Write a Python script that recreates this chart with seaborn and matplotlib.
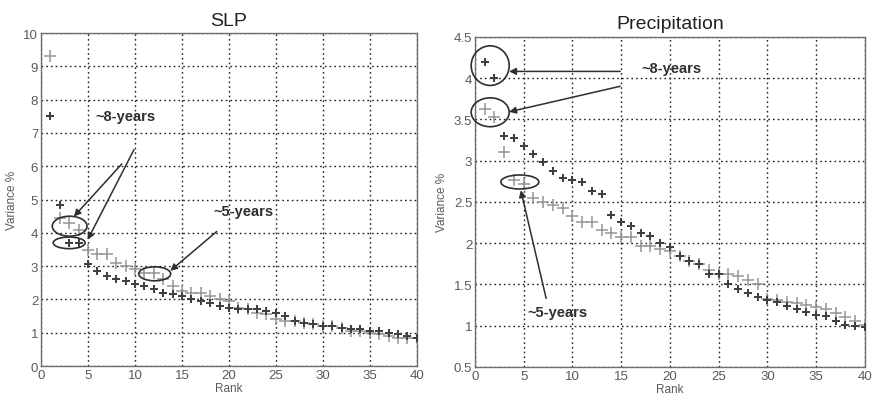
import matplotlib
matplotlib.use("Agg")
import matplotlib.pyplot as plt
import seaborn as sns
import numpy as np
import pandas as pd
from matplotlib.patches import Ellipse

# ---------------- data ----------------
rank = list(range(1, 41))

slp_light = [9.3, 4.45, 4.3, 4.1, 3.5, 3.35, 3.35, 3.1, 3.0, 2.9,
             2.8, 2.8, 2.6, 2.4, 2.25, 2.2, 2.2, 2.1, 2.0, 1.95,
             1.75, 1.7, 1.6, 1.55, 1.4, 1.35, 1.35, 1.3, 1.25, 1.2,
             1.2, 1.15, 1.05, 1.05, 1.0, 0.95, 0.9, 0.85, 0.85, 0.85]
slp_dark = [7.5, 4.85, 3.7, 3.7, 3.05, 2.85, 2.7, 2.6, 2.55, 2.45,
            2.4, 2.3, 2.2, 2.15, 2.1, 2.0, 1.95, 1.9, 1.8, 1.75,
            1.7, 1.7, 1.7, 1.65, 1.6, 1.5, 1.35, 1.3, 1.25, 1.2,
            1.2, 1.15, 1.1, 1.1, 1.05, 1.05, 1.0, 0.95, 0.9, 0.85]

pr_light = [3.63, 3.53, 3.1, 2.77, 2.72, 2.54, 2.5, 2.46, 2.43, 2.33,
            2.26, 2.26, 2.16, 2.12, 2.07, 2.07, 1.97, 1.96, 1.93, 1.9,
            1.84, 1.78, 1.75, 1.67, 1.63, 1.63, 1.6, 1.55, 1.5, 1.32,
            1.31, 1.29, 1.27, 1.25, 1.22, 1.2, 1.15, 1.1, 1.05, 1.01]
pr_dark = [4.2, 4.0, 3.3, 3.27, 3.18, 3.08, 2.98, 2.87, 2.79, 2.77,
           2.74, 2.63, 2.59, 2.34, 2.26, 2.21, 2.12, 2.08, 2.0, 1.95,
           1.84, 1.78, 1.75, 1.63, 1.62, 1.5, 1.44, 1.39, 1.35, 1.31,
           1.28, 1.24, 1.2, 1.16, 1.13, 1.11, 1.06, 1.01, 0.99, 0.98]

titles = ["SLP", "Precipitation"]
xticks = [0, 5, 10, 15, 20, 25, 30, 35, 40]
slp_yticks = [0, 1, 2, 3, 4, 5, 6, 7, 8, 9, 10]
pr_yticks = [0.5, 1, 1.5, 2, 2.5, 3, 3.5, 4, 4.5]
xlabel = "Rank"
ylabel = "Variance %"
label8 = "~8-years"
label5 = "~5-years"

# ---------------- style ----------------
sns.set_theme(style="white")
plt.rcParams["font.family"] = ["Liberation Sans", "DejaVu Sans"]

fig = plt.figure(figsize=(8.78, 4.06), dpi=100)
ax1 = fig.add_axes([0.0467, 0.096, 0.428, 0.820])
ax2 = fig.add_axes([0.541, 0.094, 0.444, 0.813])

LIGHT = "#959595"
DARK = "#404040"
ANN = "#2e2e2e"
TICK = "#5a5a5a"

def draw(ax, light, dark, yticks, title):
    df = pd.DataFrame({"rank": rank, "light": light, "dark": dark})
    sns.scatterplot(data=df, x="rank", y="light", ax=ax, marker="+",
                    s=75, color=LIGHT, linewidth=1.1, zorder=3)
    sns.scatterplot(data=df, x="rank", y="dark", ax=ax, marker="P",
                    s=36, color=DARK, linewidth=0, zorder=4)
    ax.set_xlim(0, 40)
    ax.set_ylim(yticks[0], yticks[-1])
    ax.set_xticks(xticks)
    ax.set_yticks(yticks)
    ax.set_yticklabels([("%g" % t) for t in yticks])
    ax.grid(True, color="#222222", linestyle=(0, (1.2, 2.2)), linewidth=1.0)
    ax.set_axisbelow(True)
    for sp in ax.spines.values():
        sp.set_color("#6e6e6e")
        sp.set_linewidth(1.0)
    ax.tick_params(axis="both", labelsize=9.5, colors=TICK, length=3,
                   direction="in", pad=2)
    ax.set_xlabel(xlabel, fontsize=8.5, color=TICK, labelpad=1)
    ax.set_ylabel(ylabel, fontsize=8.5, color=TICK, labelpad=4)
    ax.set_title(title, fontsize=14, color="#222222", pad=6)

draw(ax1, slp_light, slp_dark, slp_yticks, titles[0])
draw(ax2, pr_light, pr_dark, pr_yticks, titles[1])

arrow_kw = dict(arrowstyle="-|>", color=ANN, lw=1.1, mutation_scale=10,
                shrinkA=0, shrinkB=0)

def ell(ax, cx, cy, w, h):
    ax.add_patch(Ellipse((cx, cy), w, h, fill=False, edgecolor=ANN,
                         linewidth=1.2, zorder=5, clip_on=False))

# SLP annotations
ax1.text(5.8, 7.5, label8, fontsize=10.5, fontweight="bold", color=ANN,
         va="center", ha="left")
ax1.text(18.4, 4.66, label5, fontsize=10.5, fontweight="bold", color=ANN,
         va="center", ha="left")
ell(ax1, 3.05, 4.2, 3.7, 0.6)
ell(ax1, 3.0, 3.7, 3.4, 0.35)
ell(ax1, 12.1, 2.77, 3.4, 0.42)
ax1.annotate("", xy=(3.5, 4.49), xytext=(8.6, 6.07), arrowprops=arrow_kw)
ax1.annotate("", xy=(4.96, 3.79), xytext=(9.9, 6.5), arrowprops=arrow_kw)
ax1.annotate("", xy=(13.76, 2.86), xytext=(18.7, 4.04), arrowprops=arrow_kw)

# Precipitation annotations
ax2.text(17.1, 4.12, label8, fontsize=10.5, fontweight="bold", color=ANN,
         va="center", ha="left")
ax2.text(5.4, 1.16, label5, fontsize=10.5, fontweight="bold", color=ANN,
         va="center", ha="left")
ell(ax2, 1.56, 4.15, 3.9, 0.48)
ell(ax2, 1.56, 3.585, 3.9, 0.35)
ell(ax2, 4.6, 2.74, 3.9, 0.17)
ax2.annotate("", xy=(3.5, 4.08), xytext=(14.9, 4.08), arrowprops=arrow_kw)
ax2.annotate("", xy=(3.5, 3.59), xytext=(14.9, 3.9), arrowprops=arrow_kw)
ax2.annotate("", xy=(4.7, 2.64), xytext=(7.3, 1.33), arrowprops=arrow_kw)

fig.savefig("out.png", dpi=100)
